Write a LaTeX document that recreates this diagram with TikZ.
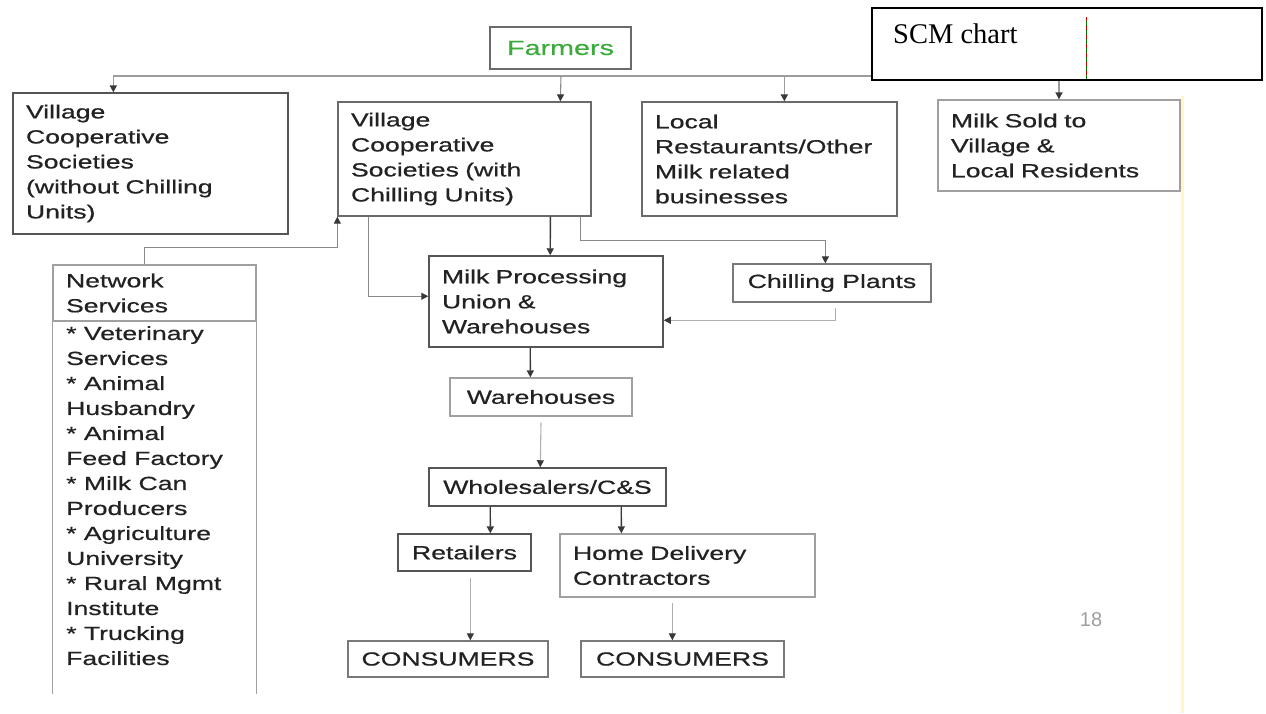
\documentclass[tikz,border=0pt]{standalone}
\usepackage{fontspec}
\setmainfont{Liberation Serif}
\newfontfamily\chartfont[FakeStretch=1.4,FakeBold=0.6]{Liberation Sans}
\newfontfamily\pagenumfont{Liberation Sans}
\usetikzlibrary{arrows.meta,calc}

\definecolor{ink}{HTML}{222222}
\definecolor{farmgreen}{HTML}{3DAA3D}
\definecolor{edge}{HTML}{6A6A6A}
\definecolor{edgelight}{HTML}{A0A0A0}
\definecolor{wire}{HTML}{8A8A8A}
\definecolor{wirelight}{HTML}{B0B0B0}
\definecolor{wiredark}{HTML}{383838}
\definecolor{slideedge}{HTML}{FFF6C8}

\begin{document}
\begin{tikzpicture}[x=1pt,y=-1pt,
  chart/.style={font=\chartfont\fontsize{19}{25}\selectfont, text=ink},
  lbox/.style={chart, draw=edge, line width=1.3pt, rectangle,
    inner xsep=13pt, inner ysep=0pt, align=left},
  cbox/.style={chart, draw=edge, line width=1.3pt, rectangle, inner sep=0pt},
  tip/.style={-{Triangle[length=7pt,width=7pt,color=wiredark]}},
  busarr/.style={tip, draw=wire!85, line width=1.6pt},
  arr/.style={tip, draw=wire, line width=1.1pt},
  arrdark/.style={tip, draw=wiredark, line width=1.4pt},
  arrlight/.style={tip, draw=wirelight, line width=1.1pt}]

% page and background
\useasboundingbox (0,0) rectangle (1266,713);
\fill[white] (0,0) rectangle (1266,713);
\draw[slideedge, line width=3pt] (1182,96) -- (1182,713);

% ---- nodes -------------------------------------------------------------
\node[cbox, draw=edge, minimum width=141, minimum height=42, text=farmgreen,
      font=\chartfont\fontsize{20.5}{25}\selectfont] (farmers) at (560.5,48) {Farmers};

\node[lbox, draw=edge!80!black, text width=249, minimum height=141] (vcsno) at (150.5,163.5)
  {Village\\Cooperative\\Societies\\(without Chilling\\Units)};
\node[lbox, text width=227, minimum height=114] (vcsw) at (464.5,159)
  {Village\\Cooperative\\Societies (with\\Chilling Units)};
\node[lbox, text width=229, minimum height=114] (local) at (769.5,159)
  {Local\\Restaurants/Other\\Milk related\\businesses};
\node[lbox, draw=edgelight, text width=216, minimum height=91] (sold) at (1059,145.5)
  {Milk Sold to\\Village \&\\Local Residents};

\node[lbox, draw=edgelight, text width=177, minimum height=56] (net) at (154.5,293)
  {Network\\Services};
\draw[edgelight, line width=1.3pt] (net.south west) -- ++(0,372);
\draw[edgelight, line width=1.3pt] (net.south east) -- ++(0,372);
\node[chart, anchor=north west, inner sep=0pt, align=left] (netbody) at (66,326)
  {* Veterinary\\Services\\* Animal\\Husbandry\\* Animal\\Feed Factory\\* Milk Can\\Producers\\* Agriculture\\University\\* Rural Mgmt\\Institute\\* Trucking\\Facilities};

\node[lbox, draw=edge!80!black, line width=1.5pt, text width=208, minimum height=91] (mp) at (546,301.5)
  {Milk Processing\\Union \&\\Warehouses};
\node[cbox, draw=edge!90, minimum width=198, minimum height=38] (chill) at (832,283) {Chilling Plants};
\node[cbox, draw=edgelight, minimum width=182, minimum height=38] (wh) at (541,397) {Warehouses};
\node[cbox, draw=edge!80!black, line width=1.5pt, minimum width=237, minimum height=38] (ws) at (547.5,487) {Wholesalers/C\&S};
\node[cbox, draw=edge!80!black, minimum width=133, minimum height=37] (ret) at (464.5,552.5) {Retailers};
\node[lbox, draw=edgelight, text width=229, minimum height=63] (home) at (687.5,565.5)
  {Home Delivery\\Contractors};
\node[cbox, draw=edge!90, minimum width=200, minimum height=36] (con1) at (448,659) {CONSUMERS};
\node[cbox, draw=edge!90, minimum width=203, minimum height=36] (con2) at (682.5,659) {CONSUMERS};

\node[font=\pagenumfont\fontsize{20}{22}\selectfont, text=gray!75, inner sep=0pt] (pagenum) at (1091,620) {18};

% ---- connectors --------------------------------------------------------
\coordinate (bus) at (561,76);
\draw[busarr] (bus) -| ($(vcsno.north west)+(101,0)$);
\draw[arr] (bus) -- ($(vcsw.north west)+(223,0)$);
\draw[busarr] (bus) -| ($(local.north west)+(143,0)$);
\draw[busarr] (bus) -| (sold.north);

\draw[arr] ($(net.north west)+(92,0)$) |- ($(vcsw.south west)+(0,31)$) -- (vcsw.south west);
\draw[arr] ($(vcsw.south west)+(31,0)$) |- ($(mp.north west)+(0,41)$);
\draw[arrdark] ($(vcsw.south west)+(213,0)$) -- ($(mp.north west)+(122,0)$);
\draw[arr] ($(vcsw.south west)+(243,0)$) -- ++(0,24) -| ($(chill.north west)+(93,0)$);
\draw[arrlight] ($(chill.south west)+(103,5)$) |- ($(mp.north east)+(0,65)$);
\draw[arrdark] ($(mp.south west)+(102,0)$) -- ($(wh.north west)+(81,0)$);
\draw[arrlight] ($(wh.south)+(0,6)$) -- ($(ws.north west)+(112,0)$);
\draw[arrdark] ($(ws.south west)+(62,0)$) -- ($(ret.north west)+(93,0)$);
\draw[arrdark] ($(ws.south west)+(193,0)$) -- ($(home.north west)+(62,0)$);
\draw[arrlight] ($(ret.south west)+(73,6)$) -- ($(con1.north west)+(123,0)$);
\draw[arrlight] ($(home.south west)+(113,5)$) -- ($(con2.north west)+(92,0)$);

% ---- title panel -------------------------------------------------------
\node[draw=black, line width=2.4pt, fill=white, minimum width=390, minimum height=72,
      inner sep=0pt] (scm) at (1067,44) {};
\node[anchor=base west, inner sep=0pt, font=\fontsize{28.5}{30}\selectfont] (scmtitle) at (893,43) {SCM chart};
\draw[green!45!black, line width=0.9pt] ($(scm.north west)+(216,10)$) -- ($(scm.south west)+(216,-2)$);
\draw[red!80!black, line width=0.9pt, dash pattern=on 4pt off 5pt] ($(scm.north west)+(216,10)$) -- ($(scm.south west)+(216,-2)$);
\end{tikzpicture}
\end{document}
